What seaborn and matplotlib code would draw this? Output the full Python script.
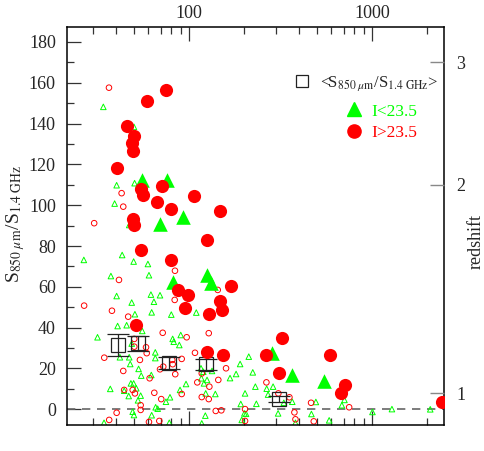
import numpy as np
import matplotlib
matplotlib.use("Agg")
import matplotlib.pyplot as plt
import seaborn as sns
from matplotlib.lines import Line2D
from matplotlib.ticker import LogLocator, FixedLocator, FixedFormatter, NullFormatter

# bright sources: I < 23.5 (big green triangles)
bright_x = [55.1, 75.5, 69.4, 93.1, 82.0, 125, 131.5, 286, 368, 550]
bright_y = [112.4, 112.4, 90.8, 94.4, 62.5, 65.8, 61.8, 27.5, 16.8, 13.9]

# faint sources: I > 23.5 (big red circles)
faint_x = [74.6, 58.9, 45.6, 50.0, 48.6, 49.5, 40.2, 54.4, 55.8, 71.1, 66.6, 79.4,
           107, 147.8, 49.5, 50.2, 54.4, 125, 79.7, 86.7, 99.1, 95.1, 129, 147.8,
           151, 170, 51.1, 126, 153, 324, 263, 312, 591, 714, 679, 2404]
faint_y = [156.5, 151.3, 138.9, 134.1, 130.7, 126.6, 118.3, 108.0, 105.0, 109.6, 101.5, 98.2,
           104.6, 97.2, 93.3, 90.2, 78.1, 83.0, 73.2, 58.5, 56.0, 49.5, 46.6, 53.1,
           48.7, 60.4, 41.3, 27.9, 26.6, 35.1, 26.6, 17.6, 26.6, 11.9, 7.8, 3.7]

# weaker detections (small open symbols)
weak_red_x = [36.5, 42.8, 43.7, 30.3, 26.7, 41.4, 37.9, 46.5, 83.8, 83.5, 143.6, 128.2,
              71.8, 97.1, 50.2, 50.2, 58.2, 58.7, 34.4, 53.9, 72.3, 81.0, 81.4, 91.2,
              84.1, 69.4, 43.7, 60.9, 107.8, 111.0, 117.4, 129.2, 144.6, 159.4, 49.2, 50.6,
              44.2, 64.6, 91.2, 70.5, 128.2, 117.4, 54.4, 54.4, 40.2, 36.6, 60.4, 68.8,
              140.0, 150.2, 202.5, 202.5, 265, 308, 354, 465, 377, 382, 481, 751]
weak_red_y = [157.6, 105.9, 99.3, 91.2, 50.8, 63.4, 48.3, 45.4, 67.9, 53.6, 58.5, 37.3,
              37.5, 35.3, 34.5, 30.7, 30.4, 27.5, 25.3, 24.2, 20.9, 24.2, 22.1, 24.7,
              17.2, 19.6, 18.8, 15.2, 27.7, 13.2, 17.6, 11.1, 14.4, 20.1, 9.5, 7.8,
              9.5, 8.1, 7.5, 5.0, 5.0, 6.0, 2.0, -0.3, -1.7, -5.2, -6.2, -5.7,
              -0.8, -0.5, 0.1, -5.7, 13.2, 7.8, 5.9, 3.2, -1.5, -4.9, -5.9, 1.0]

weak_green_x = [34.0, 50.0, 40.2, 50.4, 39.2, 47.1, 26.6, 43.1, 49.8, 59.6, 37.4, 60.4,
                40.2, 48.6, 61.9, 69.4, 64.3, 62.5, 80.0, 50.6, 109.6, 31.6, 40.7, 45.6,
                55.5, 48.6, 65.4, 65.4, 81.4, 82.5, 88.5, 90.1, 41.9, 47.1, 47.7, 53.0,
                54.8, 62.2, 37.1, 44.2, 46.8, 48.1, 49.8, 51.5, 54.4, 74.8, 78.7, 89.3,
                96.3, 116.8, 120.8, 125.5, 123.4, 139.3, 116.3, 119.7, 133.6, 190.3, 180.9, 167.6,
                202.5, 191.9, 200.8, 52.6, 65.7, 67.4, 62.5, 49.2, 50.0, 34.3, 78.0, 117.4,
                122.8, 194.3, 212.2, 223.2, 230.6, 233.5, 205.1, 266, 270.6, 288.2, 330, 367,
                307, 382, 467, 494, 584, 685, 708, 1007, 1287, 2085]
weak_green_y = [148.2, 138.4, 109.8, 110.8, 100.8, 90.3, 73.2, 75.6, 72.4, 71.2, 65.3, 65.7,
                55.5, 52.3, 56.2, 55.9, 52.7, 47.5, 46.4, 46.6, 47.4, 35.3, 40.8, 41.2,
                38.4, 32.2, 27.9, 25.1, 34.5, 33.1, 31.5, 36.4, 25.5, 25.5, 22.2, 19.8,
                16.5, 16.8, 10.0, 9.1, 6.5, 12.7, 12.7, 10.3, 6.7, 3.7, 5.9, 9.5,
                12.4, 15.2, 12.7, 14.4, 7.8, 7.5, 20.1, 18.4, 18.8, 22.2, 17.3, 15.3,
                7.8, 2.6, -2.0, 4.4, 1.0, 0.3, -2.9, -1.2, -2.8, -6.6, -6.6, -6.9,
                -3.1, -5.2, 25.8, 18.1, 11.1, 2.7, -2.2, 10.1, 7.2, 11.1, 3.2, 3.7,
                -2.0, -6.6, -2.3, 3.6, -5.4, 2.0, 4.6, -1.3, 0.1, 0.0]

# binned means <S850/S1.4>
mean_x = [40.9, 52.4, 78.0, 123.4, 309.7]
mean_y = [31.5, 32.3, 22.7, 22.1, 5.0]
mean_err = [5.5, 3.5, 3.0, 2.6, 1.6]

# redshift scale on the right
redshift_labels = ['1', '2', '3']
redshift_at_ratio = [7.8, 110.0, 170.0]

sns.set_theme(style='ticks')
plt.rcParams['font.family'] = ['Liberation Serif', 'DejaVu Serif']
plt.rcParams['mathtext.fontset'] = 'stix'

GREEN = '#00ff00'
RED = '#ff0000'

fig = plt.figure(figsize=(4.85, 4.51), dpi=100)
ax = fig.add_axes([0.138, 0.0576, 0.7775, 0.8824])

ax.axhline(0, color='#666666', lw=1.2, ls=(0, (5, 4)), zorder=1)

sns.scatterplot(x=weak_green_x, y=weak_green_y, marker='^', s=16, facecolor='none',
                edgecolor=GREEN, linewidth=0.7, ax=ax, zorder=2)
sns.scatterplot(x=weak_red_x, y=weak_red_y, marker='o', s=16, facecolor='none',
                edgecolor=RED, linewidth=0.7, ax=ax, zorder=2)

ax.errorbar(mean_x, mean_y, yerr=mean_err, fmt='s', ms=10, mfc='none', mec='#222222',
            mew=0.9, ecolor='#222222', elinewidth=0.9, capsize=8, capthick=0.9, zorder=3)

sns.scatterplot(x=bright_x, y=bright_y, marker='^', s=110, color=GREEN, linewidth=0,
                ax=ax, zorder=4)
sns.scatterplot(x=faint_x, y=faint_y, marker='o', s=90, color=RED, linewidth=0,
                ax=ax, zorder=4)

ax.set_xscale('log')
ax.set_xlim(21.5, 2480)
ax.set_ylim(-7.7, 187.3)

ax.xaxis.set_major_locator(FixedLocator([100, 1000]))
ax.xaxis.set_major_formatter(FixedFormatter(['100', '1000']))
ax.xaxis.set_minor_locator(LogLocator(base=10, subs=np.arange(2, 10)))
ax.xaxis.set_minor_formatter(NullFormatter())
ax.set_yticks(np.arange(0, 181, 20))
ax.set_yticks(np.arange(10, 181, 20), minor=True)

ax.tick_params(axis='x', which='both', direction='in', top=True, bottom=True,
               labeltop=True, labelbottom=False, labelsize=13, pad=4)
ax.tick_params(axis='y', which='both', direction='in', left=True, right=False,
               labelsize=13, pad=8)
ax.tick_params(which='major', length=10, width=0.9, color='#333333')
ax.tick_params(which='minor', length=5, width=0.9, color='#333333')

ax.set_ylabel(r'S$_{850\ \mu\mathrm{m}}$/S$_{1.4\ \mathrm{GHz}}$', fontsize=14)
ax.yaxis.set_label_coords(-0.106, 0.505)
ax.set_xlabel('')

for s in ax.spines.values():
    s.set_color('black')
    s.set_linewidth(1.1)

ax2 = ax.twinx()
ax2.set_ylim(ax.get_ylim())
ax2.set_yticks(redshift_at_ratio)
ax2.set_yticklabels(redshift_labels)
ax2.tick_params(axis='y', direction='in', length=10, width=1.0, color='#888888',
                labelsize=13, pad=9)
ax2.set_ylabel('redshift', fontsize=13)
ax2.yaxis.set_label_coords(1.062, 0.462)
for s in ax2.spines.values():
    s.set_visible(False)

# legend
h_mean = [Line2D([], [], ls='none', marker='s', ms=9, mfc='none', mec='#222222', mew=0.9)]
leg1 = ax.legend(h_mean, [r'<S$_{850\ \mu\mathrm{m}}$/S$_{1.4\ \mathrm{GHz}}$>'],
                 loc='center left', bbox_to_anchor=(0.601, 0.858), frameon=False,
                 borderpad=0, borderaxespad=0, handlelength=1.0, handletextpad=0.6,
                 fontsize=12)
ax.add_artist(leg1)
h_i = [Line2D([], [], ls='none', marker='^', ms=10, color=GREEN),
       Line2D([], [], ls='none', marker='o', ms=9.5, color=RED)]
leg2 = ax.legend(h_i, ['I<23.5', 'I>23.5'], loc='center left',
                 bbox_to_anchor=(0.737, 0.761), frameon=False, borderpad=0,
                 borderaxespad=0, handlelength=1.0, handletextpad=0.55,
                 labelspacing=0.3, fontsize=12.5)
for t, c in zip(leg2.get_texts(), [GREEN, RED]):
    t.set_color(c)

fig.savefig('out.png', dpi=100)
